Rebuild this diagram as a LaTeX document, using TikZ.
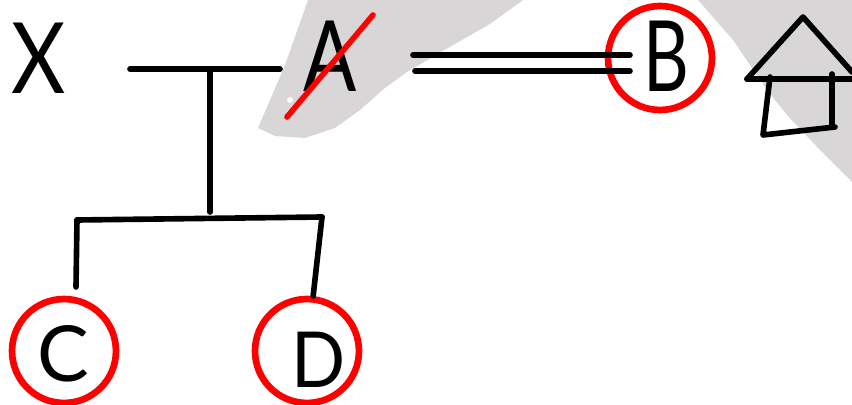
\documentclass[tikz,border=0pt]{standalone}
\usepackage{fontspec}
\usetikzlibrary{automata}
\newfontfamily\handfont{Lato}
\definecolor{smudge}{HTML}{D8D6D6}
\definecolor{redmark}{HTML}{FF0000}

\begin{document}
\begin{tikzpicture}[x=0.02cm,y=-0.02cm,line cap=round,line join=round,
                    line width=3.2pt,auto]
\tikzstyle{every state}=[fill=none,draw=redmark,text=black,line width=3.8pt,inner sep=2pt,minimum size=2.08cm]
\tikzstyle{letter}=[font=\handfont\fontsize{56pt}{60pt}\selectfont,inner sep=0pt,text=black]
\tikzstyle{letterb}=[font=\handfont\fontsize{44pt}{48pt}\selectfont,inner sep=0pt,text=black]

        \useasboundingbox (0,0) rectangle (852,405);

        % grey smudges behind
        \fill[smudge] (308,0) -- (285,65) -- (258,128) -- (275,136) -- (305,138) -- (335,128)
             -- (360,110) -- (385,88) -- (407,72) -- (453,45) -- (490,24) -- (523,0) -- cycle;
        \fill[white] (290,100) circle (3);
        \fill[smudge] (698,0) -- (733,40) -- (767,90) -- (787,115) -- (820,150) -- (852,182)
             -- (852,0) -- cycle;

        \node[letter,xscale=0.85]   (X) at (39,58)   {X};
        \node[letter,xscale=0.8]    (A) at (330,56)  {A};
        \node[state]                (B) at (660,58)  {};
        \node[letter,xscale=0.72]   (Btext) at (666,56)  {B};
        \node[state]                (C) at (64,351)  {};
        \node[letterb]              (Ctext) at (63,354) {C};
        \node[state]                (D) at (307,351) {};
        \node[letterb,xscale=0.92]  (Dtext) at (319,360) {D};

        \coordinate (barl) at (130,69);
        \coordinate (barr) at (280,69);
        \coordinate (barm) at (210,69);
        \coordinate (drop) at (210,212);
        \coordinate (kidl) at (77,220);
        \coordinate (kidr) at (322,217);
        \coordinate (ctop) at (76,287);
        \coordinate (uppl) at (413,55);
        \coordinate (uppr) at (630,55);
        \coordinate (lowl) at (415,71);
        \coordinate (lowr) at (630,71);
        \coordinate (cutl) at (287,117);
        \coordinate (cutr) at (373,15);

        \path
        (barl) edge (barr)
        (barm) edge (drop)
        (kidl) edge (kidr)
        (kidl) edge (ctop)
        (kidr) edge (D)
        (uppl) edge (uppr)
        (lowl) edge (lowr)
        ; %end path

        \draw[redmark,line width=3.2pt] (cutl) -- (cutr);

        % house
        \draw (747,79) -- (803,17) -- (852,72);
        \draw (747,79) -- (852,79);
        \draw (770,77) -- (763,135) -- (835,127);
        \draw (832,74) -- (832,127);

\end{tikzpicture}
\end{document}
